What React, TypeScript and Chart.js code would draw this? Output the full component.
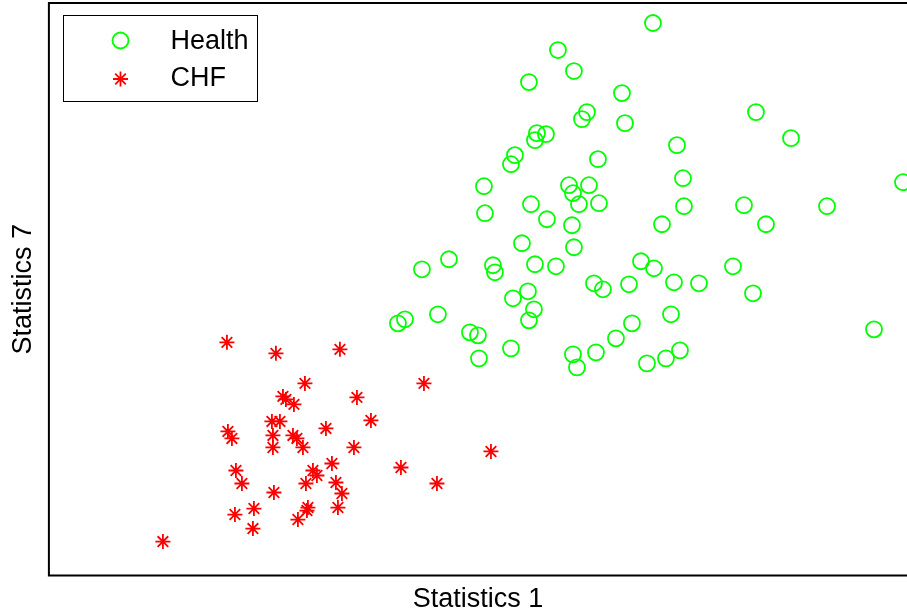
import { useEffect, useRef } from "react";
import { Chart, registerables } from "chart.js";

Chart.register(...registerables);

const seriesNames = ["Health", "CHF"];
const axisTitleX = "Statistics 1";
const axisTitleY = "Statistics 7";

const healthX = [
  604, 509, 525, 480, 573, 707, 538, 533, 576, 497, 488, 486, 742, 628, 466, 462, 549, 634,
  854, 435, 520, 540, 524, 530, 482, 550, 635, 695, 778, 436, 498, 523, 613, 717, 473, 525,
  400, 373, 444, 446, 486, 507, 592, 605, 684, 545, 554, 580, 625, 650, 704, 479, 464, 485,
  480, 389, 356, 349, 622, 421, 429, 583, 567, 462, 430, 524, 547, 631, 617, 598, 528, 825,
];
const healthY = [
  552, 525, 504, 493, 482, 463, 463, 456, 452, 441, 442, 435, 437, 430, 420, 411, 416, 397,
  393, 389, 390, 390, 382, 371, 371, 372, 369, 370, 369, 362, 356, 350, 351, 351, 332, 328,
  316, 306, 310, 303, 311, 309, 314, 307, 309, 292, 286, 291, 293, 292, 282, 284, 277, 266,
  255, 261, 256, 252, 261, 243, 240, 252, 237, 227, 217, 221, 223, 225, 217, 212, 208, 246,
];

const chfX = [
  178, 227, 291, 256, 375, 234, 237, 245, 308, 322, 223, 231, 179, 183, 224, 244, 248, 277,
  224, 254, 305, 442, 187, 193, 283, 264, 268, 257, 287, 293, 225, 352, 388, 289, 259, 258,
  249, 205, 186, 204, 114,
];
const chfY = [
  233, 222, 226, 192, 192, 179, 176, 171, 178, 155, 154, 154, 144, 137, 140, 140, 137, 147,
  128, 128, 128, 124, 105, 92, 112, 105, 100, 92, 93, 82, 83, 108, 92, 68, 68, 65,
  56, 67, 61, 47, 34,
];

const xRange = [0, 858];
const yRange = [0, 572];

const GREEN = "#00ff00";
const RED = "#ff0000";
const FONT = "'Liberation Sans', Arial, Helvetica, sans-serif";

function drawStar(ctx: CanvasRenderingContext2D, x: number, y: number, r: number) {
  ctx.beginPath();
  for (let k = 0; k < 4; k++) {
    const a = (k * Math.PI) / 4;
    ctx.moveTo(x + Math.cos(a) * r, y + Math.sin(a) * r);
    ctx.lineTo(x - Math.cos(a) * r, y - Math.sin(a) * r);
  }
  ctx.stroke();
}

const framePlugin = {
  id: "frameAndLegend",
  afterDatasetsDraw(chart: any) {
    const { ctx, chartArea } = chart;
    const { left, top, right, bottom } = chartArea;
    ctx.save();
    ctx.strokeStyle = "#000";
    ctx.lineWidth = 2;
    ctx.beginPath();
    ctx.moveTo(right + 4, top);
    ctx.lineTo(left, top);
    ctx.lineTo(left, bottom);
    ctx.lineTo(right + 4, bottom);
    ctx.stroke();

    // legend box
    const bx = Math.round(left) + 14.5;
    const by = Math.round(top) + 12.5;
    const bw = 194;
    const bh = 86;
    ctx.fillStyle = "#fff";
    ctx.fillRect(bx, by, bw, bh);
    ctx.lineWidth = 1;
    ctx.strokeStyle = "#000";
    ctx.strokeRect(bx, by, bw, bh);

    const mx = bx + 57;
    const y1 = by + 25;
    const y2 = by + 63.5;
    ctx.lineWidth = 1.8;
    ctx.strokeStyle = GREEN;
    ctx.beginPath();
    ctx.arc(mx, y1, 8, 0, Math.PI * 2);
    ctx.stroke();
    ctx.strokeStyle = RED;
    drawStar(ctx, mx, y2, 7.5);

    ctx.fillStyle = "#000";
    ctx.font = `27px ${FONT}`;
    ctx.textBaseline = "middle";
    ctx.textAlign = "left";
    ctx.fillText(seriesNames[0], bx + 107, y1 + 1);
    ctx.fillText(seriesNames[1], bx + 107, y2);
    ctx.restore();
  },
};

export default function App() {
  const canvasRef = useRef<HTMLCanvasElement | null>(null);

  useEffect(() => {
    document.body.style.margin = "0";
    const canvas = canvasRef.current;
    if (!canvas) return;
    const chart = new Chart(canvas, {
      type: "scatter",
      data: {
        datasets: [
          {
            label: seriesNames[0],
            data: healthX.map((x, i) => ({ x, y: healthY[i] })),
            pointStyle: "circle",
            pointRadius: 8,
            pointHoverRadius: 8,
            borderColor: GREEN,
            backgroundColor: "rgba(0,0,0,0)",
            borderWidth: 1.8,
          },
          {
            label: seriesNames[1],
            data: chfX.map((x, i) => ({ x, y: chfY[i] })),
            pointStyle: "star",
            pointRadius: 7.5,
            pointHoverRadius: 7.5,
            borderColor: RED,
            backgroundColor: RED,
            borderWidth: 1.8,
          },
        ],
      },
      options: {
        animation: false,
        responsive: true,
        maintainAspectRatio: false,
        layout: { autoPadding: false, padding: { left: 0, right: 0, top: 3, bottom: 0 } },
        plugins: {
          legend: { display: false },
          tooltip: { enabled: false },
        },
        events: [],
        scales: {
          x: {
            type: "linear",
            min: xRange[0],
            max: xRange[1],
            grid: { display: false, drawTicks: false },
            border: { display: false },
            ticks: { display: false },
            title: {
              display: true,
              text: axisTitleX,
              color: "#000",
              font: { family: FONT, size: 27, lineHeight: 1.2 },
              padding: { top: 8, bottom: 0 },
            },
          },
          y: {
            type: "linear",
            min: yRange[0],
            max: yRange[1],
            grid: { display: false, drawTicks: false },
            border: { display: false },
            ticks: { display: false },
            title: {
              display: true,
              text: axisTitleY,
              color: "#000",
              font: { family: FONT, size: 27, lineHeight: 1.2 },
              padding: { top: 7.5, bottom: 9 },
            },
          },
        },
      },
      plugins: [framePlugin],
    });
    return () => chart.destroy();
  }, []);

  return (
    <div style={{ width: 907, height: 616, position: "relative" }}>
      <canvas ref={canvasRef} />
    </div>
  );
}
